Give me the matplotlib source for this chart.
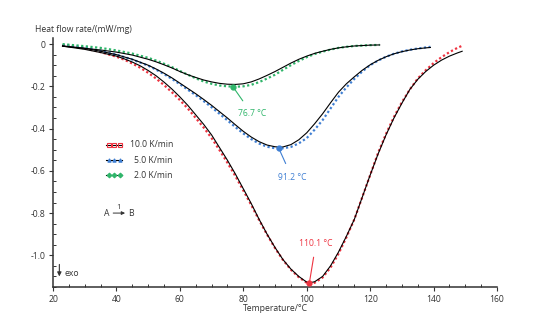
import numpy as np
import matplotlib.pyplot as plt
from matplotlib.ticker import MultipleLocator, FuncFormatter

plt.rcParams['font.family'] = ['Open Sans', 'DejaVu Sans']
plt.rcParams['axes.unicode_minus'] = False

# heating rates and their colours
rates = ["10.0 K/min", "5.0 K/min", "2.0 K/min"]
colors = ["#ee3340", "#3f7fd3", "#2fb56a"]
markers = ["s", "^", "D"]

# 10 K/min: temperature, measured and fitted heat flow rate
t_red = [23, 25, 30, 35, 40, 42.5, 45, 47.5, 50, 52.5, 55, 57.5, 60, 62.5, 65, 67.5, 70, 72.5, 75, 77.5, 80,
         82.5, 85, 87.5, 90, 92.5, 95, 97.5, 100, 101, 102.5, 105, 107.5, 110, 112.5, 115, 117.5, 120, 122.5,
         125, 127.5, 130, 132.5, 135, 137.5, 140, 142.5, 145, 147.5, 149]
q_red = [-0.005, -0.008, -0.02, -0.038, -0.06, -0.074, -0.092, -0.112, -0.136, -0.163, -0.194, -0.228, -0.265,
         -0.305, -0.35, -0.395, -0.445, -0.502, -0.562, -0.625, -0.693, -0.762, -0.834, -0.902, -0.966, -1.022,
         -1.068, -1.104, -1.13, -1.134, -1.13, -1.105, -1.058, -0.993, -0.915, -0.83, -0.725, -0.62, -0.515,
         -0.425, -0.345, -0.275, -0.215, -0.163, -0.124, -0.09, -0.062, -0.038, -0.018, -0.008]
f_red = [-0.01, -0.014, -0.025, -0.04, -0.057, -0.07, -0.085, -0.103, -0.125, -0.15, -0.18, -0.213, -0.25,
         -0.29, -0.335, -0.38, -0.43, -0.49, -0.55, -0.615, -0.685, -0.755, -0.83, -0.9, -0.963, -1.02,
         -1.065, -1.1, -1.127, -1.13, -1.125, -1.1, -1.05, -0.985, -0.91, -0.83, -0.725, -0.62, -0.52,
         -0.43, -0.35, -0.28, -0.215, -0.167, -0.13, -0.1, -0.076, -0.057, -0.042, -0.034]

# 5 K/min
t_blue = [23, 25, 30, 35, 40, 45, 50, 52.5, 55, 57.5, 60, 62.5, 65, 67.5, 70, 72.5, 75, 77.5, 80, 82.5, 85,
          87.5, 90, 91.5, 92.5, 95, 97.5, 100, 102.5, 105, 107.5, 110, 112.5, 115, 117.5, 120, 122.5, 125,
          127.5, 130, 132.5, 135, 137.5, 139]
q_blue = [-0.005, -0.008, -0.017, -0.032, -0.05, -0.073, -0.102, -0.121, -0.142, -0.165, -0.19, -0.216, -0.242,
          -0.27, -0.299, -0.33, -0.361, -0.393, -0.423, -0.45, -0.471, -0.486, -0.493, -0.494, -0.493, -0.487,
          -0.47, -0.445, -0.405, -0.36, -0.305, -0.25, -0.205, -0.165, -0.13, -0.1, -0.078, -0.06, -0.046,
          -0.035, -0.027, -0.021, -0.016, -0.013]
f_blue = [-0.01, -0.013, -0.02, -0.034, -0.05, -0.072, -0.1, -0.118, -0.138, -0.16, -0.185, -0.21, -0.235,
          -0.262, -0.29, -0.32, -0.35, -0.382, -0.413, -0.44, -0.462, -0.478, -0.486, -0.488, -0.487, -0.476,
          -0.453, -0.42, -0.377, -0.33, -0.278, -0.228, -0.188, -0.155, -0.124, -0.098, -0.077, -0.06, -0.046,
          -0.036, -0.028, -0.022, -0.018, -0.016]

# 2 K/min
t_green = [23, 25, 30, 35, 40, 45, 50, 52.5, 55, 57.5, 60, 62.5, 65, 67.5, 70, 72.5, 75, 77.5, 80, 82.5, 85,
           87.5, 90, 92.5, 95, 97.5, 100, 102.5, 105, 107.5, 110, 112.5, 115, 117.5, 120, 123]
q_green = [0.0, -0.003, -0.01, -0.018, -0.03, -0.045, -0.065, -0.078, -0.093, -0.109, -0.127, -0.145, -0.162,
           -0.177, -0.188, -0.196, -0.2, -0.202, -0.2, -0.193, -0.18, -0.163, -0.145, -0.122, -0.1, -0.08,
           -0.062, -0.047, -0.036, -0.026, -0.018, -0.013, -0.009, -0.007, -0.005, -0.004]
f_green = [-0.008, -0.012, -0.02, -0.028, -0.038, -0.052, -0.072, -0.084, -0.098, -0.113, -0.13, -0.145, -0.158,
           -0.17, -0.179, -0.186, -0.19, -0.191, -0.188, -0.179, -0.165, -0.148, -0.13, -0.11, -0.09, -0.072,
           -0.057, -0.044, -0.034, -0.025, -0.018, -0.013, -0.009, -0.007, -0.005, -0.004]

# peak temperatures and their labels
peak_t = [100.8, 91.2, 76.7]
peak_labels = ["110.1 °C", "91.2 °C", "76.7 °C"]

measured = [(t_red, q_red), (t_blue, q_blue), (t_green, q_green)]
fitted = [f_red, f_blue, f_green]

fig = plt.figure(figsize=(5.36, 3.34), dpi=100)
ax = fig.add_axes([0.0989, 0.1407, 0.8284, 0.7463])

for (t, q), f, c in zip(measured, fitted, colors):
    ax.plot(t, q, color=c, lw=1.6, linestyle=(0, (1, 1.1)), zorder=2)
    ax.plot(t, f, color="black", lw=0.8, zorder=3)

# peak markers with leader lines
label_pos = [(102.9, -0.942), (95.3, -0.63), (82.7, -0.33)]
for (t, q), pt, lab, (lx, ly), c in zip(measured, peak_t, peak_labels, label_pos, colors):
    py = np.interp(pt, t, q)
    ax.plot([pt], [py], "o", color=c, ms=3.5, zorder=4)
    ax.annotate(lab, xy=(pt, py), xytext=(lx, ly), color=c, fontsize=6.2,
                ha="center", va="center",
                arrowprops=dict(arrowstyle="-", color=c, lw=0.8, shrinkA=5, shrinkB=0))

# legend drawn by hand so the labels stay right-aligned
leg_y = [-0.476, -0.55, -0.62]
for lab, c, m, y in zip(rates, colors, markers, leg_y):
    ax.plot([36.7, 41.8], [y, y], color="black", lw=0.8, zorder=3)
    ax.plot([37.5, 39.25, 41.0], [y, y, y], m, color=c, ms=2.4, zorder=4,
            mfc="none" if m == "s" else c, mew=0.8)
    ax.text(57.8, y, lab, fontsize=6.2, ha="right", va="center", color="#333333")

# reaction step sketch
ax.text(37.0, -0.8, "A", fontsize=6.2, ha="center", va="center", color="#333333")
ax.annotate("", xy=(43.6, -0.8), xytext=(38.1, -0.8),
            arrowprops=dict(arrowstyle="-|>", color="#333333", lw=0.7, mutation_scale=5))
ax.text(40.8, -0.79, "1", fontsize=5.5, ha="center", va="bottom", color="#333333")
ax.text(44.7, -0.8, "B", fontsize=6.2, ha="center", va="center", color="#333333")

# exo direction
ax.annotate("", xy=(22.0, -1.113), xytext=(22.0, -1.03),
            arrowprops=dict(arrowstyle="-|>", color="#333333", lw=0.8, mutation_scale=6))
ax.text(23.7, -1.085, "exo", fontsize=6.2, ha="left", va="center", color="#333333")

ax.set_xlim(20, 160)
ax.set_ylim(-1.15, 0.03)
ax.xaxis.set_major_locator(MultipleLocator(20))
ax.xaxis.set_minor_locator(MultipleLocator(5))
ax.yaxis.set_major_locator(MultipleLocator(0.2))
ax.yaxis.set_minor_locator(MultipleLocator(0.05))
ax.yaxis.set_major_formatter(FuncFormatter(lambda v, p: "0" if abs(v) < 1e-9 else f"{v:.1f}"))

for side in ["top", "right"]:
    ax.spines[side].set_visible(False)
for side in ["left", "bottom"]:
    ax.spines[side].set_linewidth(1.1)
    ax.spines[side].set_color("#333333")

ax.tick_params(which="major", direction="out", length=3, width=0.8, colors="#333333",
               labelsize=6.2, pad=2.5)
ax.tick_params(which="minor", direction="in", length=2, width=0.7, colors="#333333")

ax.set_xlabel("Temperature/°C", fontsize=6.2, color="#333333", labelpad=0)
fig.text(35 / 536, 1 - 29 / 334, "Heat flow rate/(mW/mg)", fontsize=6.2, color="#333333",
         ha="left", va="center")

fig.savefig("out.png", dpi=100)
